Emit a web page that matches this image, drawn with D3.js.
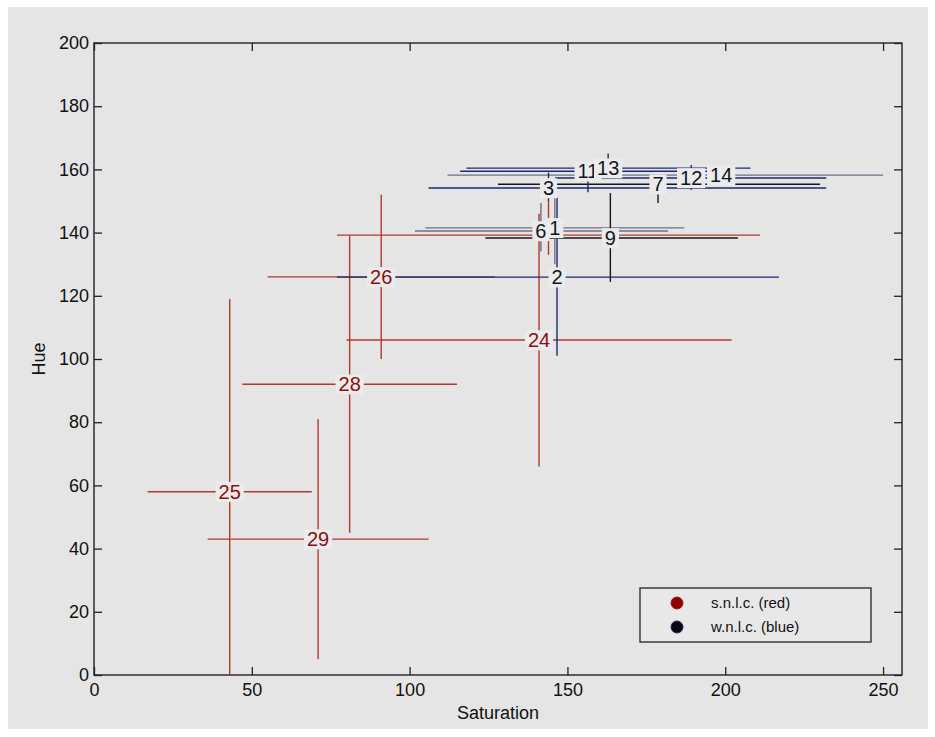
<!DOCTYPE html>
<html>
<head>
<meta charset="utf-8">
<script src="https://cdn.jsdelivr.net/npm/d3@7"></script>
<style>
  body{margin:0;background:#fff;}
  text{font-family:"Liberation Sans",Arial,sans-serif;}
</style>
</head>
<body>
<svg id="chart" width="935" height="737"></svg>
<script>
// s.n.l.c. (red) - centre, horizontal and vertical extent
var redLabels=["25","29","28","26","24",""];
var redX  =[43, 71, 81, 91, 141,144];
var redY  =[58, 43, 92, 126,106,139.2];
var redXlo=[17, 36, 47, 55, 80, 77];
var redXhi=[69, 106,115,127,202,211];
var redYlo=[0,  5,  45, 100,66, 133];
var redYhi=[119,81, 139,152,146,150];

// w.n.l.c. (blue)
var blueLabels=["2","9","6","1","3","7","12","14","11","13"];
var blueX  =[146.7,163.6,141.6,146, 144, 178.7,189.2,198.7,156.5,162.9];
var blueY  =[125.9,138.3,140.5,141.5,154.1,155.3,157.3,158.2,159.4,160.4];
var blueXlo=[77,   124,  101.7,105, 106, 128,  146,  112,  116,  118];
var blueXhi=[217,  204,  181.9,187, 232, 230,  232,  250,  197,  208];
var blueYlo=[101,  124.4,134,  130, 150, 149.4,153.5,156,  152.8,157];
var blueYhi=[151,  152.5,149.4,151.5,159, 158,  161.4,160.5,162,  165];

var xTicks=[0,50,100,150,200,250];
var yTicks=[0,20,40,60,80,100,120,140,160,180,200];

// styles
var bg="#e5e5e5";
var redLine="#b3392b", redText="#8a0f0f";
var blueShades=["#1d2870","#15151c","#6c7186","#6c7186","#1d2870","#15151c","#1d2870","#6c7186","#1d2870","#1d2870"];
var blueText="#101524";

var svg=d3.select("#chart");
svg.append("rect").attr("x",8).attr("y",7).attr("width",920).attr("height",722).attr("fill",bg);

var x=d3.scaleLinear().domain([0,256]).range([94,902]);
var y=d3.scaleLinear().domain([0,200]).range([675,43]);

function rows(lab,cx,cy,xlo,xhi,ylo,yhi){
    var out=[];
    for(var i=0;i<lab.length;i++){
        out.push({label:lab[i],x:cx[i],y:cy[i],xlo:xlo[i],xhi:xhi[i],ylo:ylo[i],yhi:yhi[i],i:i});
    }
    return out;
}
var red=rows(redLabels,redX,redY,redXlo,redXhi,redYlo,redYhi);
var blue=rows(blueLabels,blueX,blueY,blueXlo,blueXhi,blueYlo,blueYhi);

// axes
var gx=svg.append("g").attr("transform","translate(0,675)")
    .call(d3.axisBottom(x).tickValues(xTicks).tickSizeInner(-8).tickSizeOuter(0).tickPadding(8));
var gy=svg.append("g").attr("transform","translate(94,0)")
    .call(d3.axisLeft(y).tickValues(yTicks).tickSizeInner(-8).tickSizeOuter(0).tickPadding(5));
var gt=svg.append("g").attr("transform","translate(0,43)")
    .call(d3.axisTop(x).tickValues(xTicks).tickSizeInner(-8).tickSizeOuter(0).tickFormat(""));
var gr=svg.append("g").attr("transform","translate(902,0)")
    .call(d3.axisRight(y).tickValues(yTicks).tickSizeInner(-8).tickSizeOuter(0).tickFormat(""));
[gx,gy,gt,gr].forEach(function(g){
    g.select(".domain").remove();
    g.selectAll("line").attr("stroke","#222").attr("stroke-width",1.3);
    g.selectAll("text").attr("font-size",18).attr("fill","#111")
        .attr("font-family","'Liberation Sans',Arial,sans-serif");
});
svg.append("rect").attr("x",94).attr("y",43).attr("width",808).attr("height",632)
    .attr("fill","none").attr("stroke","#222").attr("stroke-width",1.4);

svg.append("text").attr("x",498).attr("y",719).attr("text-anchor","middle")
    .attr("font-size",18).attr("fill","#111").text("Saturation");
svg.append("text").attr("transform","translate(45,359) rotate(-90)").attr("text-anchor","middle")
    .attr("font-size",18).attr("fill","#111").text("Hue");

// error crosses
function bars(data,colorOf){
    var g=svg.append("g");
    g.selectAll(".h").data(data).enter().append("line")
        .attr("x1",function(d){return x(d.xlo)}).attr("x2",function(d){return x(d.xhi)})
        .attr("y1",function(d){return y(d.y)}).attr("y2",function(d){return y(d.y)})
        .attr("stroke",colorOf).attr("stroke-width",1.4);
    g.selectAll(".v").data(data).enter().append("line")
        .attr("x1",function(d){return x(d.x)}).attr("x2",function(d){return x(d.x)})
        .attr("y1",function(d){return y(d.ylo)}).attr("y2",function(d){return y(d.yhi)})
        .attr("stroke",colorOf).attr("stroke-width",1.4);
}
bars(red,function(){return redLine});
bars(blue,function(d){return blueShades[d.i]});

// number labels with a background patch
function labels(data,col){
    data.forEach(function(d){
        if(!d.label) return;
        var g=svg.append("g");
        var t=g.append("text").attr("x",x(d.x)).attr("y",y(d.y)).attr("dy","0.36em")
            .attr("text-anchor","middle").attr("font-size",20).attr("fill",col).text(d.label);
        var b=t.node().getBBox();
        g.insert("rect","text").attr("x",b.x-3).attr("y",b.y+1).attr("width",b.width+6).attr("height",b.height-2)
            .attr("fill","#ebebeb");
    });
}
labels(red,redText);
labels(blue,blueText);

// legend
var leg=svg.append("g");
leg.append("rect").attr("x",640).attr("y",588).attr("width",231).attr("height",54)
    .attr("fill","#e8e8e8").attr("stroke","#222").attr("stroke-width",1.3);
var legItems=[{t:"s.n.l.c. (red)",c:"#8b0000",s:"#a01a10"},{t:"w.n.l.c. (blue)",c:"#08080f",s:"#1d2870"}];
legItems.forEach(function(d,i){
    leg.append("circle").attr("cx",677).attr("cy",603+i*24).attr("r",6)
        .attr("fill",d.c).attr("stroke",d.s).attr("stroke-width",1);
    leg.append("text").attr("x",711).attr("y",603+i*24).attr("dy","0.35em")
        .attr("font-family","'Open Sans',sans-serif").attr("font-size",15).attr("fill","#111").text(d.t);
});
</script>
</body>
</html>
